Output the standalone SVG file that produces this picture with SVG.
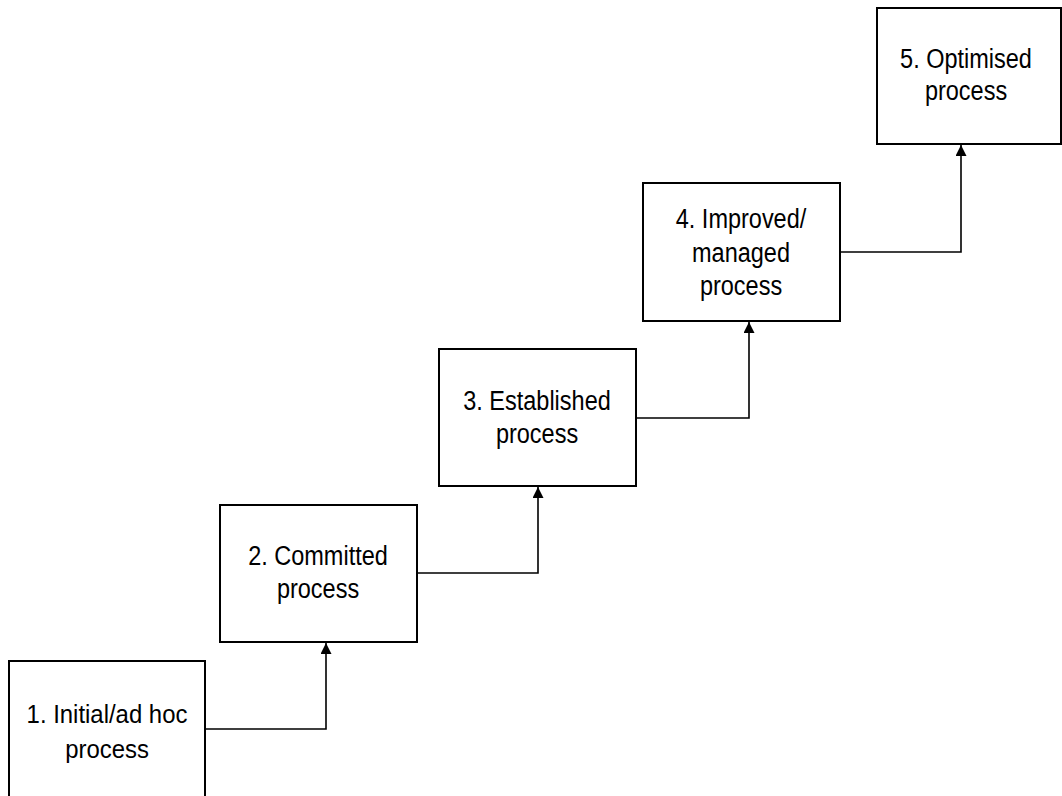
<svg xmlns="http://www.w3.org/2000/svg" width="1062" height="796" viewBox="0 0 1062 796">
<style>
.box{fill:#fff;stroke:#000;stroke-width:2}
.lbl{font-family:"Liberation Sans",Arial,sans-serif;font-size:27px;fill:#000;text-anchor:middle}
.l1{font-size:26px}
.conn{fill:none;stroke:#000;stroke-width:1.6}
</style>
<defs>
<marker id="ah" viewBox="0 0 10 10" refX="10" refY="5" markerWidth="11" markerHeight="11" markerUnits="userSpaceOnUse" orient="auto">
<path d="M0,0 L10,5 L0,10 Z" fill="#000"/>
</marker>
</defs>
<rect width="1062" height="796" fill="#fff"/>
<g id="connectors">
<path class="conn" d="M205,729 H326 V643" marker-end="url(#ah)"/>
<path class="conn" d="M417,573 H538 V487" marker-end="url(#ah)"/>
<path class="conn" d="M636,418 H749 V322" marker-end="url(#ah)"/>
<path class="conn" d="M840,252 H961 V145" marker-end="url(#ah)"/>
</g>
<g id="node1">
<rect class="box" x="9" y="661" width="196" height="150"/>
<text class="lbl l1" transform="translate(107,723) scale(0.92,1)">1. Initial/ad hoc</text>
<text class="lbl l1" transform="translate(107,758) scale(0.92,1)">process</text>
</g>
<g id="node2">
<rect class="box" x="220" y="505" width="197" height="137"/>
<text class="lbl" transform="translate(318,565) scale(0.87,1)">2. Committed</text>
<text class="lbl" transform="translate(318,598) scale(0.87,1)">process</text>
</g>
<g id="node3">
<rect class="box" x="439" y="349" width="197" height="137"/>
<text class="lbl" transform="translate(537,410) scale(0.87,1)">3. Established</text>
<text class="lbl" transform="translate(537,443) scale(0.87,1)">process</text>
</g>
<g id="node4">
<rect class="box" x="643" y="183" width="197" height="138"/>
<text class="lbl" transform="translate(741,228) scale(0.87,1)">4. Improved/</text>
<text class="lbl" transform="translate(741,262) scale(0.87,1)">managed</text>
<text class="lbl" transform="translate(741,295) scale(0.87,1)">process</text>
</g>
<g id="node5">
<rect class="box" x="877" y="8" width="184" height="136"/>
<text class="lbl" transform="translate(966,68) scale(0.87,1)">5. Optimised</text>
<text class="lbl" transform="translate(966,100) scale(0.87,1)">process</text>
</g>
</svg>
